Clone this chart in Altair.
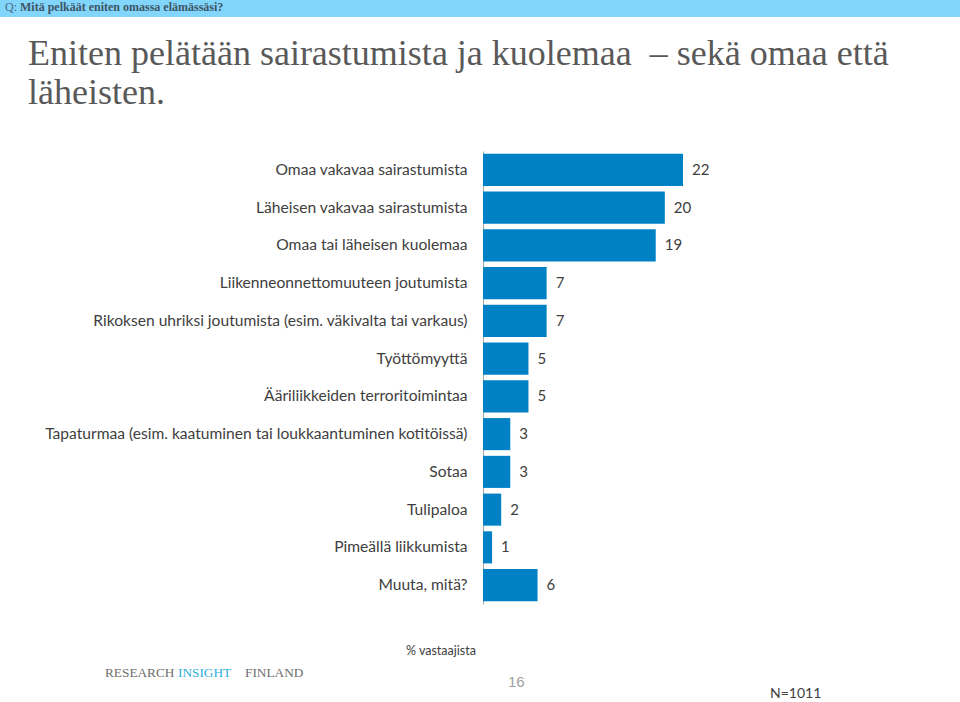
import altair as alt
import pandas as pd

categories = [
    "Omaa vakavaa sairastumista",
    "Läheisen vakavaa sairastumista",
    "Omaa tai läheisen kuolemaa",
    "Liikenneonnettomuuteen joutumista",
    "Rikoksen uhriksi joutumista (esim. väkivalta tai varkaus)",
    "Työttömyyttä",
    "Ääriliikkeiden terroritoimintaa",
    "Tapaturmaa (esim. kaatuminen tai loukkaantuminen kotitöissä)",
    "Sotaa",
    "Tulipaloa",
    "Pimeällä liikkumista",
    "Muuta, mitä?",
]
values = [22, 20, 19, 7, 7, 5, 5, 3, 3, 2, 1, 6]

question = "Mitä pelkäät eniten omassa elämässäsi?"
title_lines = ["Eniten pelätään sairastumista ja kuolemaa\u00a0\u00a0\u2013 sekä omaa että", "läheisten."]
x_caption = "% vastaajista"
page_no = "16"
n_note = "N=1011"

df = pd.DataFrame({"cat": categories, "val": values})

W, H = 400, 453
L, T = 483, 151
BAR = "#0081C6"
TXT = "#404040"
FONT = "Lato"

y_enc = alt.Y("cat:N", sort=None, title=None,
              scale=alt.Scale(paddingInner=0.15, paddingOuter=0.075),
              axis=alt.Axis(domainColor="#a6a6a6", domainWidth=1, ticks=False,
                            labelFont=FONT, labelFontSize=15.6, labelColor=TXT,
                            labelPadding=16, labelLimit=500, grid=False))
x_enc = alt.X("val:Q", scale=alt.Scale(domain=[0, 44]), axis=None)

base = alt.Chart(df)
bars = base.mark_bar(color=BAR).encode(x=x_enc, y=y_enc)
labels = base.mark_text(align="left", baseline="middle", dx=9, font=FONT,
                        fontSize=15, color=TXT).encode(x=x_enc, y=y_enc, text="val:Q")

one = pd.DataFrame({"k": [0]})
banner = alt.Chart(one).mark_rect(color="#82D5FB").encode(
    x=alt.value(-L), x2=alt.value(960 - L), y=alt.value(-T), y2=alt.value(17 - T))
q_lbl = alt.Chart(one).mark_text(text="Q:", align="left", baseline="alphabetic",
                                 font="Liberation Serif", fontSize=12, color="#4a6b85").encode(
    x=alt.value(5 - L), y=alt.value(11 - T))
q_txt = alt.Chart(one).mark_text(text=question, align="left", baseline="alphabetic",
                                 font="Liberation Serif", fontSize=12, fontWeight="bold",
                                 color="#3e5566").encode(
    x=alt.value(20 - L), y=alt.value(11 - T))
title = alt.Chart(one).mark_text(text=title_lines, align="left", baseline="alphabetic",
                                 font="Liberation Serif", fontSize=36, lineHeight=39,
                                 color="#595959").encode(
    x=alt.value(28 - L), y=alt.value(65 - T))
cap = alt.Chart(one).mark_text(text=x_caption, align="left", baseline="middle",
                               font=FONT, fontSize=12.5, color=TXT).encode(
    x=alt.value(406 - L), y=alt.value(651 - T))
page = alt.Chart(one).mark_text(text=page_no, align="left", baseline="middle",
                                font="Liberation Sans", fontSize=15, color="#a0a0a0").encode(
    x=alt.value(508 - L), y=alt.value(682 - T))
nn = alt.Chart(one).mark_text(text=n_note, align="left", baseline="middle",
                              font=FONT, fontSize=14, color=TXT).encode(
    x=alt.value(770 - L), y=alt.value(694 - T))
logo1 = alt.Chart(one).mark_text(text="RESEARCH", align="left", baseline="middle",
                                 font="Liberation Serif", fontSize=13.3, color="#6d6d6d").encode(
    x=alt.value(105 - L), y=alt.value(673 - T))
logo2 = alt.Chart(one).mark_text(text="INSIGHT", align="left", baseline="middle",
                                 font="Liberation Serif", fontSize=13.3, color="#2bb1dc").encode(
    x=alt.value(178 - L), y=alt.value(673 - T))
logo3 = alt.Chart(one).mark_text(text="FINLAND", align="left", baseline="middle",
                                 font="Liberation Serif", fontSize=13.3, color="#6d6d6d").encode(
    x=alt.value(245 - L), y=alt.value(673 - T))

chart = alt.layer(banner, q_lbl, q_txt, title, bars, labels, cap, page, nn,
                  logo1, logo2, logo3).properties(
    width=W, height=H,
    padding={"left": L, "top": T, "right": 960 - L - W, "bottom": 702 - T - H},
    autosize=alt.AutoSizeParams(type="none"),
    background="white",
).configure_view(stroke=None)

chart.save("out.html", embed_options={"renderer": "svg", "actions": False})
